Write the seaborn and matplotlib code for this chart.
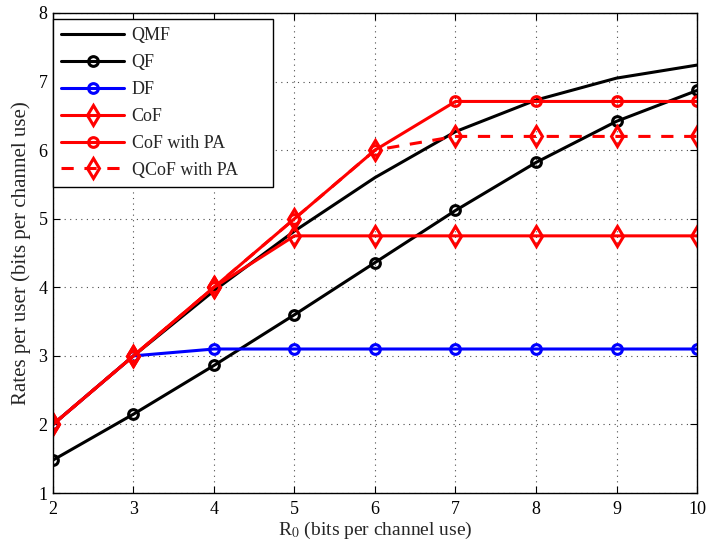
import matplotlib
matplotlib.use("Agg")
import matplotlib.pyplot as plt
import seaborn as sns
import pandas as pd

r0 = [2, 3, 4, 5, 6, 7, 8, 9, 10]
qmf = [2.0, 3.0, 3.95, 4.82, 5.60, 6.27, 6.73, 7.05, 7.24]
qf = [1.48, 2.15, 2.86, 3.60, 4.36, 5.12, 5.82, 6.42, 6.87]
df_rate = [2.0, 3.0, 3.1, 3.1, 3.1, 3.1, 3.1, 3.1, 3.1]
cof = [2.0, 3.0, 4.0, 4.75, 4.75, 4.75, 4.75, 4.75, 4.75]
cof_pa = [2.0, 3.0, 4.0, 5.0, 6.0, 6.71, 6.71, 6.71, 6.71]
qcof_pa = [2.0, 3.0, 4.0, 5.0, 6.0, 6.2, 6.2, 6.2, 6.2]

labels = ["QMF", "QF", "DF", "CoF", "CoF with PA", "QCoF with PA"]
series = [qmf, qf, df_rate, cof, cof_pa, qcof_pa]
styles = [
    dict(color="black", marker=None, linestyle="-"),
    dict(color="black", marker="o", linestyle="-"),
    dict(color="blue", marker="o", linestyle="-"),
    dict(color="red", marker="d", linestyle="-"),
    dict(color="red", marker="o", linestyle="-"),
    dict(color="red", marker="d", linestyle="--"),
]

sns.set_style("ticks")
plt.rcParams["font.family"] = ["Liberation Serif", "DejaVu Serif"]
plt.rcParams["mathtext.fontset"] = "stix"

fig = plt.figure(figsize=(7.1, 5.5), dpi=100)
ax = fig.add_axes([0.0746, 0.1036, 0.9071, 0.8728])

for lab, ys, st in zip(labels, series, styles):
    d = pd.DataFrame({"x": r0, "y": ys})
    kw = dict(data=d, x="x", y="y", ax=ax, color=st["color"], linewidth=2.2,
              label=lab, estimator=None, sort=False)
    if st["marker"] is not None:
        ms = 10 if st["marker"] == "d" else 7
        kw.update(marker=st["marker"], markersize=ms, markerfacecolor="none",
                  markeredgecolor=st["color"], markeredgewidth=2.2)
    line_ax = sns.lineplot(**kw)
    if st["linestyle"] == "--":
        line_ax.lines[-1].set_dashes([4, 3.5])

ax.set_xlim(2, 10)
ax.set_ylim(1, 8)
ax.set_xticks(range(2, 11))
ax.set_yticks(range(1, 9))
ax.grid(True, linestyle=(0, (1, 4)), color="black", linewidth=0.8, alpha=0.7)
ax.tick_params(direction="in", top=True, right=True, labelsize=13, length=5,
               width=0.8, colors="black")
ax.tick_params(axis="x", pad=6)
ax.tick_params(axis="y", pad=4)
for sp in ax.spines.values():
    sp.set_linewidth(1.0)
    sp.set_color("black")

ax.set_xlabel(r"R$_0$ (bits per channel use)", fontsize=14, labelpad=1)
ax.set_ylabel("Rates per user (bits per channel use)", fontsize=15, labelpad=5)

# legend box spans a fixed width at the top-left corner of the axes
top = 1 - 6 / 480
leg = ax.legend(loc="upper left", bbox_to_anchor=(0.0, 0.5, 220 / 644, top - 0.5),
                mode="expand", fontsize=13, frameon=True, fancybox=False,
                edgecolor="black", framealpha=1, handlelength=3.5,
                borderaxespad=0.0, labelspacing=0.55, borderpad=0.45,
                handletextpad=0.4)
leg.get_frame().set_linewidth(1.0)

fig.savefig("out.png", dpi=100)
